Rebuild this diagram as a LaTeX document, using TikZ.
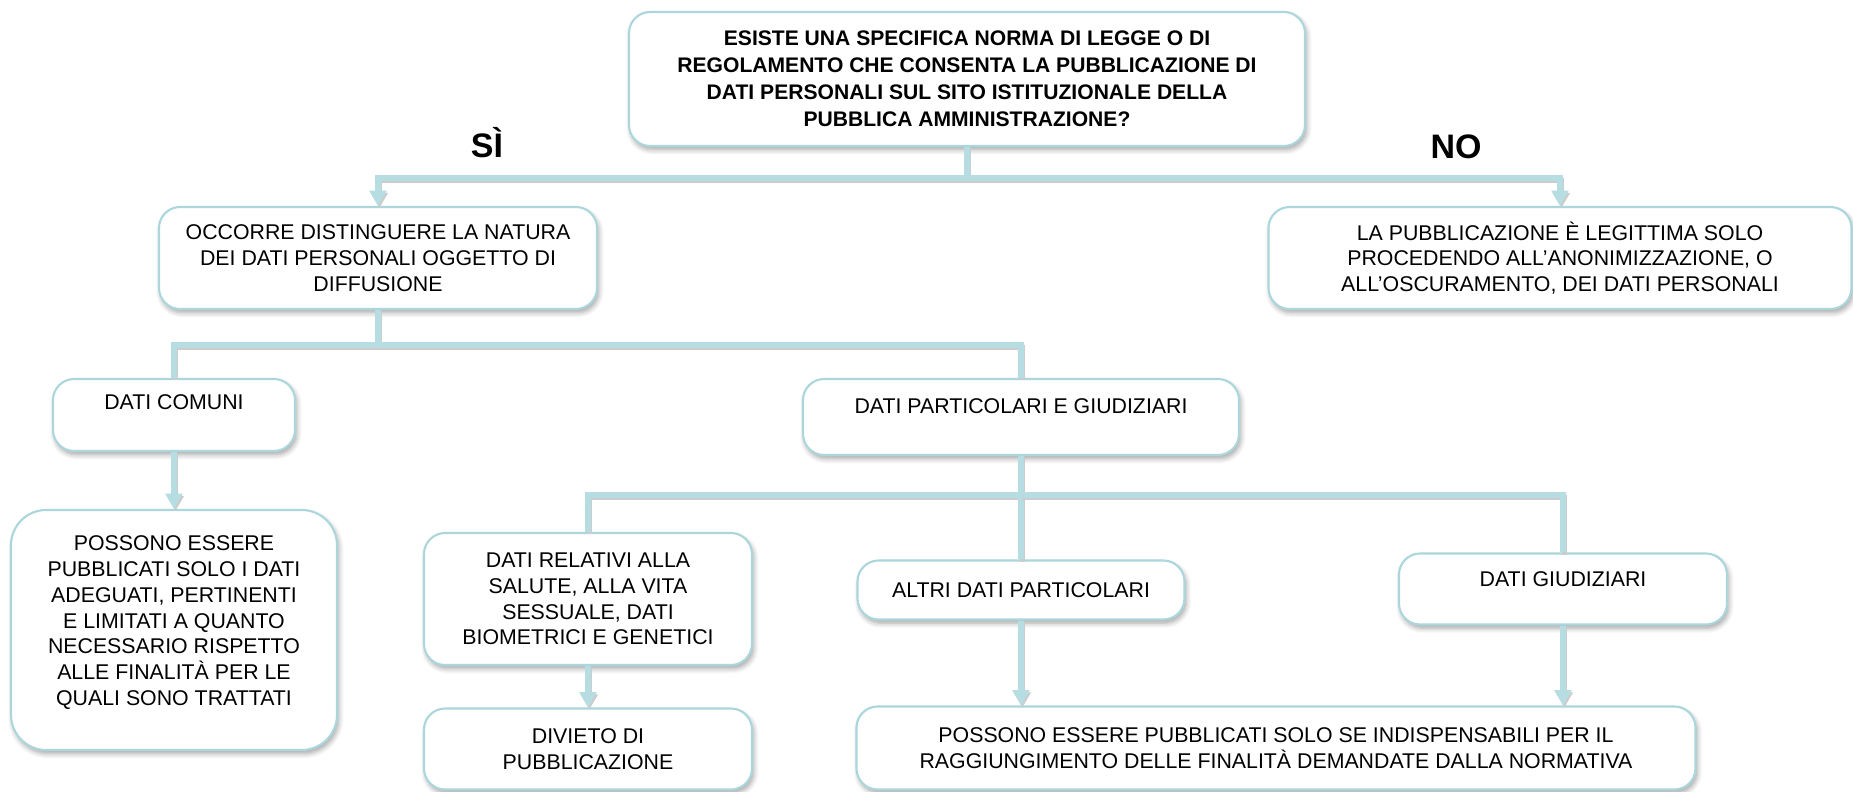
\documentclass[tikz,border=0pt]{standalone}
\usepackage{fontspec}
\setmainfont{Liberation Sans}
\usepackage{tikz}
\usetikzlibrary{arrows.meta,shadows.blur}
\definecolor{linkcol}{HTML}{B5DDE2}
\definecolor{boxcol}{HTML}{AAD6DC}
\newcommand{\boxfont}{\fontsize{9.1}{11}\selectfont}
\tikzset{
  box/.style 2 args={draw=boxcol, line width=0.9pt, fill=white, rounded corners=9pt,
    align=center, font=\boxfont, inner sep=2pt,
    minimum width=#1*0.015cm, minimum height=#2*0.015cm,
    blur shadow={shadow xshift=0.8pt, shadow yshift=-1.6pt, shadow blur steps=6, shadow opacity=35}},
  link/.style={draw=linkcol, line width=2.2pt,
    preaction={draw=black!20, line width=2.2pt, transform canvas={xshift=0.6pt, yshift=-0.9pt}}},
  arr/.style={link, -{Triangle[width=7pt,length=6.5pt]}},
  yesno/.style={font=\fontsize{14.5}{17}\selectfont\bfseries, anchor=base}
}

\begin{document}
\begin{tikzpicture}[x=0.015cm, y=-0.015cm]
\useasboundingbox (0,0) rectangle (1853,792);

% question
\node[box={676}{134}, font=\fontsize{9}{11.5}\selectfont\bfseries] (q) at (967,79)
  {ESISTE UNA SPECIFICA NORMA DI LEGGE O DI\\REGOLAMENTO CHE CONSENTA LA PUBBLICAZIONE DI\\DATI PERSONALI SUL SITO ISTITUZIONALE DELLA\\PUBBLICA AMMINISTRAZIONE?};
\node[yesno] (si) at (487,158) {SÌ};
\node[yesno] (no) at (1456,159) {NO};

% first level
\node[box={438}{102}] (occ) at (378,258)
  {OCCORRE DISTINGUERE LA NATURA\\DEI DATI PERSONALI OGGETTO DI\\DIFFUSIONE};
\node[box={583}{102}] (anon) at (1560,258)
  {LA PUBBLICAZIONE È LEGITTIMA SOLO\\PROCEDENDO ALL’ANONIMIZZAZIONE, O\\ALL’OSCURAMENTO, DEI DATI PERSONALI};

% second level
\node[box={242}{72}, text depth=11pt] (com) at (174,415) {DATI COMUNI};
\node[box={436}{76}, text depth=9.4pt] (part) at (1021,417) {DATI PARTICOLARI E GIUDIZIARI};
\node[box={326}{240}, rounded corners=15pt, text depth=8pt] (adeg) at (174,630)
  {POSSONO ESSERE\\PUBBLICATI SOLO I DATI\\ADEGUATI, PERTINENTI\\E LIMITATI A QUANTO\\NECESSARIO RISPETTO\\ALLE FINALITÀ PER LE\\QUALI SONO TRATTATI};

% third level
\node[box={328}{132}] (sal) at (588,599)
  {DATI RELATIVI ALLA\\SALUTE, ALLA VITA\\SESSUALE, DATI\\BIOMETRICI E GENETICI};
\node[box={327}{59}] (altri) at (1021,590) {ALTRI DATI PARTICOLARI};
\node[box={328}{71}, text depth=8.5pt] (giud) at (1563,589) {DATI GIUDIZIARI};
\node[box={328}{81}] (div) at (588,749) {DIVIETO DI\\PUBBLICAZIONE};
\node[box={839}{83}] (fin) at (1276,748)
  {POSSONO ESSERE PUBBLICATI SOLO SE INDISPENSABILI PER IL\\RAGGIUNGIMENTO DELLE FINALITÀ DEMANDATE DALLA NORMATIVA};

% connectors
\coordinate (j1) at (967,178);
\coordinate (j2) at (378,345);
\coordinate (j3) at (1021,495);
\draw[link] (q.south) -- (j1);
\draw[arr] (j1) -| (occ.north);
\draw[arr] (j1) -| (anon.north);
\draw[link] (occ.south) -- (j2);
\draw[link] (j2) -| (com.north);
\draw[link] (j2) -| (part.north);
\draw[arr] (com.south) -- (adeg.north);
\draw[link] (part.south) -- (j3);
\draw[link] (j3) -| (sal.north);
\draw[link] (j3) -- (altri.north);
\draw[link] (j3) -| (giud.north);
\draw[arr] (sal.south) -- (div.north);
\draw[arr] (altri.south) -- (altri.south |- fin.north);
\draw[arr] (giud.south) -- (giud.south |- fin.north);
\end{tikzpicture}
\end{document}
